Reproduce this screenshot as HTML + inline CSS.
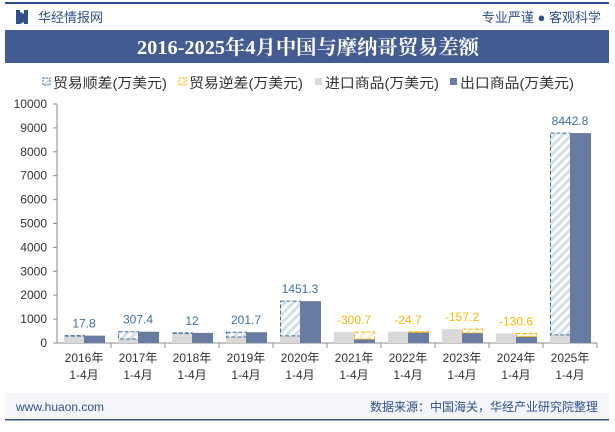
<!DOCTYPE html>
<html><head><meta charset="utf-8"><style>
body{margin:0;width:615px;height:427px;background:#fff;overflow:hidden;font-family:"Liberation Sans","Noto Sans CJK SC",sans-serif;}
</style></head><body>
<svg width="615" height="427" xmlns="http://www.w3.org/2000/svg">
<defs>
<pattern id="hb" width="6" height="6" patternUnits="userSpaceOnUse" patternTransform="rotate(45)"><rect width="6" height="6" fill="#fff"/><rect width="3" height="6" fill="#d3e0ea"/></pattern>
<pattern id="hy" width="6" height="6" patternUnits="userSpaceOnUse" patternTransform="rotate(45)"><rect width="6" height="6" fill="#fff"/><rect width="3" height="6" fill="#fbeccc"/></pattern>
</defs>
<rect x="5" y="2" width="604" height="2" fill="#2f4f8a"/>
<rect x="16" y="10" width="4" height="14" fill="#2f4f8a"/><rect x="24" y="10" width="4" height="14" fill="#2f4f8a"/><polygon points="20,12 24,14 24,22 20,24" fill="#2f4f8a"/>
<text x="38" y="22" font-size="13" fill="#2f4f8a">华经情报网</text>
<text x="601" y="22" font-size="13" fill="#2f4f8a" text-anchor="end">专业严谨 ● 客观科学</text>
<rect x="5" y="30" width="604" height="33" fill="#435d93"/>
<text x="137" y="54" font-size="20" font-weight="bold" fill="#fff" textLength="342" lengthAdjust="spacingAndGlyphs" font-family="Liberation Serif,Noto Serif CJK SC,serif">2016-2025年4月中国与摩纳哥贸易差额</text>
<g font-size="14" fill="#333">
<g><rect x="43" y="78" width="7" height="7" fill="url(#hb)" stroke="#3d6f99" stroke-dasharray="2,1"/><text x="53" y="88" textLength="114" lengthAdjust="spacingAndGlyphs">贸易顺差(万美元)</text></g>
<g><rect x="179" y="78" width="7" height="7" fill="url(#hy)" stroke="#f5b800" stroke-dasharray="2,1"/><text x="189" y="88" textLength="114" lengthAdjust="spacingAndGlyphs">贸易逆差(万美元)</text></g>
<g><rect x="315" y="78" width="7" height="7" fill="#d9d9d9"/><text x="325" y="88" textLength="114" lengthAdjust="spacingAndGlyphs">进口商品(万美元)</text></g>
<g><rect x="450" y="78" width="7" height="7" fill="#687ca3"/><text x="460" y="88" textLength="114" lengthAdjust="spacingAndGlyphs">出口商品(万美元)</text></g>
</g>
<g id="plot"></g>
<rect x="5" y="393" width="604" height="27" fill="#f3f5f9"/>
<rect x="5" y="419" width="604" height="1.5" fill="#2f4f8a"/>
<text x="16" y="411" font-size="12" fill="#2f4f8a">www.huaon.com</text>
<text x="598" y="411" font-size="12" fill="#2f4f8a" text-anchor="end">数据来源：中国海关，华经产业研究院整理</text>
</svg>
<script>
const categories=["2016年","2017年","2018年","2019年","2020年","2021年","2022年","2023年","2024年","2025年"];
const importVals=[290,165,410,250,300,460,470,580,400,340];
const exportVals=[308,472,422,452,1751,160,445,423,270,8783];
const balanceLabels=["17.8","307.4","12","201.7","1451.3","-300.7","-24.7","-157.2","-130.6","8442.8"];
const yTicks=[0,1000,2000,3000,4000,5000,6000,7000,8000,9000,10000];
const NS="http://www.w3.org/2000/svg";
const g=document.getElementById('plot');
const X0=57,X1=597,Y0=343,YT=104,YMAX=10000;
const y=v=>Y0-(Y0-YT)*v/YMAX;
const bw=(X1-X0)/categories.length;
const cx=i=>X0+bw*(i+0.5);
function el(t,a){const e=document.createElementNS(NS,t);for(const k in a)e.setAttribute(k,a[k]);g.appendChild(e);return e;}
let ax=el('line',{x1:X0,y1:YT,x2:X0,y2:Y0,stroke:'#888'});


yTicks.forEach(t=>{
 el('line',{x1:X0-4,x2:X0,y1:y(t),y2:y(t),stroke:'#888'});
 const tx=el('text',{x:47,y:y(t)+4,'font-size':12,fill:'#333','text-anchor':'end'});tx.textContent=t;
 
 
});
let xa=el('line',{x1:X0,y1:Y0,x2:X1,y2:Y0,stroke:'#888'});


categories.forEach((c,i)=>{
 const c0=cx(i),w=20;
 el('line',{x1:X0+bw*(i+1),x2:X0+bw*(i+1),y1:Y0,y2:Y0+5,stroke:'#888'});
 const im=importVals[i],ex=exportVals[i];
 const r1=el('rect',{x:c0-w,y:y(im),width:w,height:Y0-y(im),fill:'#d9d9d9'});
 
 
 const r2=el('rect',{x:c0,y:y(ex),width:w+1,height:Y0-y(ex),fill:'#687ca3'});
 
 
 const sur=ex>=im;
 const top=Math.min(y(ex),y(im)),bot=Math.max(y(ex),y(im));
 const bx=sur?c0-w:c0;
 const b=el('rect',{x:bx+0.5,y:top,width:w,height:Math.max(bot-top,0.5),fill:sur?'url(#hb)':'url(#hy)',stroke:sur?'#3d6f99':'#f5b800','stroke-dasharray':'4,2','stroke-width':1});
 if(sur){g.insertBefore(b,r2);}else{g.appendChild(b);}
 
 
 const lb=el('text',{x:c0,y:top-8,'font-size':12,fill:sur?'#3d6f99':'#f5b800','text-anchor':'middle'});lb.textContent=balanceLabels[i];
 
 
 const t1=el('text',{x:c0,y:362,'font-size':12,fill:'#333','text-anchor':'middle'});t1.textContent=c;
 
 
 const t2=el('text',{x:c0,y:379,'font-size':12,fill:'#333','text-anchor':'middle'});t2.textContent='1-4月';
 
 
});
</script>
</body></html>
